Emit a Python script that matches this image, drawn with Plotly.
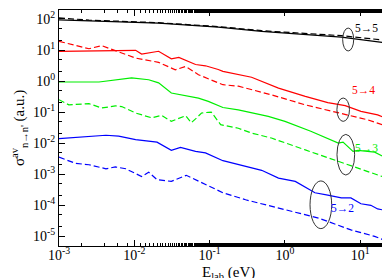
import plotly.graph_objects as go

# ---- data ----
E55s = [0.001, 0.0025, 0.021, 0.13, 0.49, 5.6, 30]
S55s = [93, 88, 74, 55, 40, 26, 15.5]
E55d = [0.001, 0.0025, 0.021, 0.13, 0.49, 5.6, 30]
S55d = [108, 92, 76, 57, 42, 29, 19]

E54s = [0.001, 0.0104, 0.0125, 0.021, 0.031, 0.039, 0.065, 0.088, 0.13, 0.15, 0.36, 0.82, 1.86, 3.7, 6.3, 10.2, 17, 30]
S54s = [9.1, 9.8, 7.4, 9.1, 5.2, 5.8, 3.4, 3.1, 2.35, 2.05, 1.32, 0.59, 0.32, 0.20, 0.16, 0.105, 0.081, 0.045]
E54d = [0.001, 0.0025, 0.0037, 0.0056, 0.0104, 0.021, 0.035, 0.048, 0.071, 0.13, 0.15, 0.24, 0.66, 1.86, 5.1, 12.6, 30]
S54d = [19, 11, 13.8, 9.5, 5.5, 4.0, 2.3, 2.95, 1.6, 0.87, 0.76, 0.68, 0.36, 0.17, 0.093, 0.056, 0.027]

E53s = [0.001, 0.0034, 0.0092, 0.0155, 0.021, 0.031, 0.071, 0.096, 0.15, 0.24, 0.60, 1.0, 2.2, 5.1, 5.9, 8.0, 9.3, 15.5, 24.5, 30]
S53s = [0.93, 0.93, 1.26, 1.1, 0.87, 0.41, 0.28, 0.22, 0.14, 0.118, 0.072, 0.050, 0.024, 0.010, 0.0107, 0.0054, 0.0058, 0.0051, 0.0029, 0.0035]
E53d = [0.001, 0.00135, 0.0025, 0.0037, 0.0056, 0.0068, 0.0104, 0.017, 0.023, 0.031, 0.048, 0.057, 0.065, 0.078, 0.096, 0.105, 0.14, 0.24, 0.36, 0.66, 1.86, 5.1, 12.6, 30]
S53d = [0.25, 0.17, 0.186, 0.135, 0.158, 0.15, 0.093, 0.065, 0.078, 0.05, 0.076, 0.045, 0.06, 0.093, 0.098, 0.10, 0.039, 0.030, 0.021, 0.0145, 0.006, 0.0026, 0.00123, 0.00058]

E52s = [0.001, 0.002, 0.0042, 0.0062, 0.0104, 0.020, 0.031, 0.041, 0.065, 0.088, 0.15, 0.49, 0.82, 1.37, 2.5, 3.7, 5.6, 7.5, 10.2, 13.8, 17, 25, 30]
S52s = [0.0138, 0.0155, 0.0178, 0.0166, 0.0129, 0.0107, 0.0058, 0.0072, 0.0054, 0.0048, 0.0027, 0.00132, 0.00074, 0.00058, 0.00025, 0.00021, 0.00017, 0.00017, 0.00011, 0.000098, 0.000075, 0.000063, 0.000052]
E52d = [0.001, 0.00167, 0.0025, 0.0042, 0.0056, 0.0077, 0.0125, 0.0155, 0.020, 0.031, 0.049, 0.088, 0.15, 0.30, 1.0, 2.8, 7.5, 15.5, 30]
S52d = [0.0035, 0.0022, 0.002, 0.00148, 0.0017, 0.00148, 0.00083, 0.00115, 0.00066, 0.00058, 0.00091, 0.00046, 0.00025, 0.000148, 0.00007, 0.000038, 0.0000158, 0.0000098, 0.0000052]

ytickvals = [1e-5, 1e-4, 1e-3, 1e-2, 1e-1, 1, 10, 100]
yticktext = ["10<sup>-5</sup>", "10<sup>-4</sup>", "10<sup>-3</sup>", "10<sup>-2</sup>",
             "10<sup>-1</sup>", "10<sup>0</sup>", "10<sup>1</sup>", "10<sup>2</sup>"]
xtickvals = [1e-3, 1e-2, 1e-1, 1, 10]
xticktext = ["10<sup>-3</sup>", "10<sup>-2</sup>", "10<sup>-1</sup>", "10<sup>0</sup>", "10<sup>1</sup>"]

BLACK, RED, GREEN, BLUE = "#000000", "#ff0000", "#00ee00", "#0000ff"
SERIF = "Liberation Serif, Times New Roman, serif"

series = [
    (E55s, S55s, BLACK, "solid"), (E55d, S55d, BLACK, "dash"),
    (E54s, S54s, RED, "solid"), (E54d, S54d, RED, "dash"),
    (E53s, S53s, GREEN, "solid"), (E53d, S53d, GREEN, "dash"),
    (E52s, S52s, BLUE, "solid"), (E52d, S52d, BLUE, "dash"),
]

fig = go.Figure()
for ex, sy, c, d in series:
    fig.add_trace(go.Scatter(x=ex, y=sy, mode="lines",
                             line=dict(color=c, width=1.2, dash=d if d == "solid" else "6px,3px"),
                             showlegend=False, hoverinfo="skip"))

# ellipses (data coordinates)
ellipses = [
    (5.83, 8.17, 9.3, 51.0),
    (4.89, 7.18, 0.050, 0.283),
    (4.90, 8.41, 0.00093, 0.019),
    (2.15, 4.17, 0.0000174, 0.0006),
]
for x0, x1, y0, y1 in ellipses:
    fig.add_shape(type="circle", xref="x", yref="y", x0=x0, x1=x1, y0=y0, y1=y1,
                  line=dict(color="#333333", width=1))

# labels (annotation positions on log axes are given in log10 units)
labels = [
    ("5→5", 0.91, 1.71, BLACK),
    ("5→4", 0.87, -0.30, RED),
    ("5→3", 0.91, -2.15, GREEN),
    ("5→2", 0.60, -4.08, BLUE),
]
for t, lx, ly, c in labels:
    fig.add_annotation(x=lx, y=ly, xref="x", yref="y", text=t, showarrow=False,
                       xanchor="left", yanchor="middle", borderpad=0,
                       font=dict(family=SERIF, size=11.5, color=c))

# axis titles
fig.add_annotation(x=0.5, y=-0.066, xref="paper", yref="paper", yanchor="top", showarrow=False,
                   text="E<sub>lab</sub> (eV)", font=dict(family=SERIF, size=15, color="black"))
fig.add_annotation(x=-0.118, y=0.5, xref="paper", yref="paper", xanchor="center", showarrow=False,
                   textangle=-90, text="σ<sup>av</sup><sub>n→n'</sub> (a.u.)",
                   font=dict(family=SERIF, size=15, color="black"))

axis_common = dict(type="log", showline=True, linecolor="black", linewidth=1, mirror="allticks",
                   ticks="inside", ticklen=6, tickcolor="black", showgrid=False, zeroline=False,
                   minor=dict(ticks="inside", ticklen=3, tickcolor="black", showgrid=False),
                   tickfont=dict(family=SERIF, size=14, color="black"))

fig.update_xaxes(range=[-3, 1.487], tickvals=xtickvals, ticktext=xticktext,
                 ticklabelstandoff=-4, **axis_common)
fig.update_yaxes(range=[-5.32, 2.29], tickvals=ytickvals, ticktext=yticktext, **axis_common)

fig.update_layout(width=390, height=278, margin=dict(l=51, r=1, t=2, b=40),
                  plot_bgcolor="white", paper_bgcolor="white", showlegend=False,
                  font=dict(family=SERIF))

fig.write_html("out.html")
